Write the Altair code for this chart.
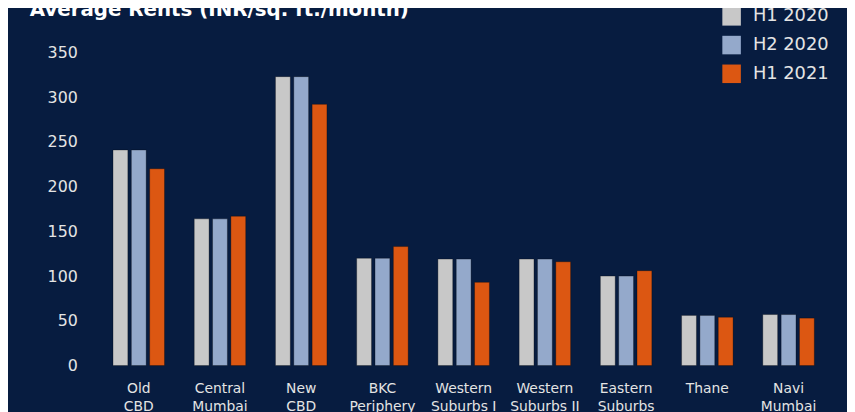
import altair as alt
import pandas as pd

locations = ["Old CBD", "Central Mumbai", "New CBD", "BKC Periphery", "Western Suburbs I",
             "Western Suburbs II", "Eastern Suburbs", "Thane", "Navi Mumbai"]
periods = ["H1 2020", "H2 2020", "H1 2021"]
h1_2020 = [241, 164, 323, 120, 119, 119, 100, 56, 57]
h2_2020 = [241, 164, 323, 120, 119, 119, 100, 56, 57]
h1_2021 = [220, 167, 292, 133, 93, 116, 106, 54, 53]
colors = ["#c8c8c8", "#94a9cb", "#dc5712"]
y_ticks = [0, 50, 100, 150, 200, 250, 300, 350]
title_text = ["Average Rents (INR/sq. ft./month)"]

rows = []
for i, loc in enumerate(locations):
    for p, vals in zip(periods, [h1_2020, h2_2020, h1_2021]):
        rows.append({"Location": loc, "Period": p, "Rent": vals[i]})
df = pd.DataFrame(rows)

BG = "#071c40"
TXT = "#e4e4e4"
FONT = "DejaVu Sans"

label_expr = ("indexof(datum.label, ' ') > 0 ? [substring(datum.label, 0, indexof(datum.label, ' ')), "
              "substring(datum.label, indexof(datum.label, ' ') + 1)] : datum.label")

bars = alt.Chart(df).mark_bar(stroke="#000000", strokeOpacity=0.3, strokeWidth=1).encode(
    x=alt.X("Location:N", sort=locations,
            scale=alt.Scale(paddingInner=0.366, paddingOuter=0.183),
            axis=alt.Axis(title=None, labelAngle=0, labelExpr=label_expr, labelFont=FONT,
                          labelFontSize=14, labelColor=TXT, labelLineHeight=18,
                          labelPadding=16, labelBaseline="top", ticks=False, tickSize=0,
                          domain=False, grid=False)),
    xOffset=alt.XOffset("Period:N", sort=periods,
                        scale=alt.Scale(paddingInner=0.19, paddingOuter=0)),
    y=alt.Y("Rent:Q", scale=alt.Scale(domain=[0, 350], nice=False),
            axis=alt.Axis(title=None, values=y_ticks, labelFont=FONT, labelFontSize=16,
                          labelColor=TXT, labelPadding=21, ticks=False, tickSize=0,
                          domain=False, grid=False)),
    color=alt.Color("Period:N", sort=periods,
                    scale=alt.Scale(domain=periods, range=colors),
                    legend=alt.Legend(title=None, orient="none", legendX=630, legendY=-46,
                                      symbolType="square", symbolSize=350,
                                      symbolStrokeWidth=0, symbolOpacity=1,
                                      labelFont=FONT, labelFontSize=18, labelColor=TXT,
                                      labelOffset=12, rowPadding=10, padding=0)),
)

title = alt.Chart(pd.DataFrame({"t": title_text})).mark_text(
    align="left", baseline="alphabetic", font=FONT, fontSize=20, fontWeight="bold",
    color="#ffffff"
).encode(text="t:N", x=alt.value(-69), y=alt.value(-37))

chart = alt.layer(bars, title).properties(
    width=738,
    height=316,
    autosize=alt.AutoSizeParams(type="none"),
    padding={"left": 91, "right": 18, "top": 43, "bottom": 45},
    background=BG,
).configure_view(strokeWidth=0)

chart.save("out.html", embed_options={"renderer": "svg", "actions": False})
